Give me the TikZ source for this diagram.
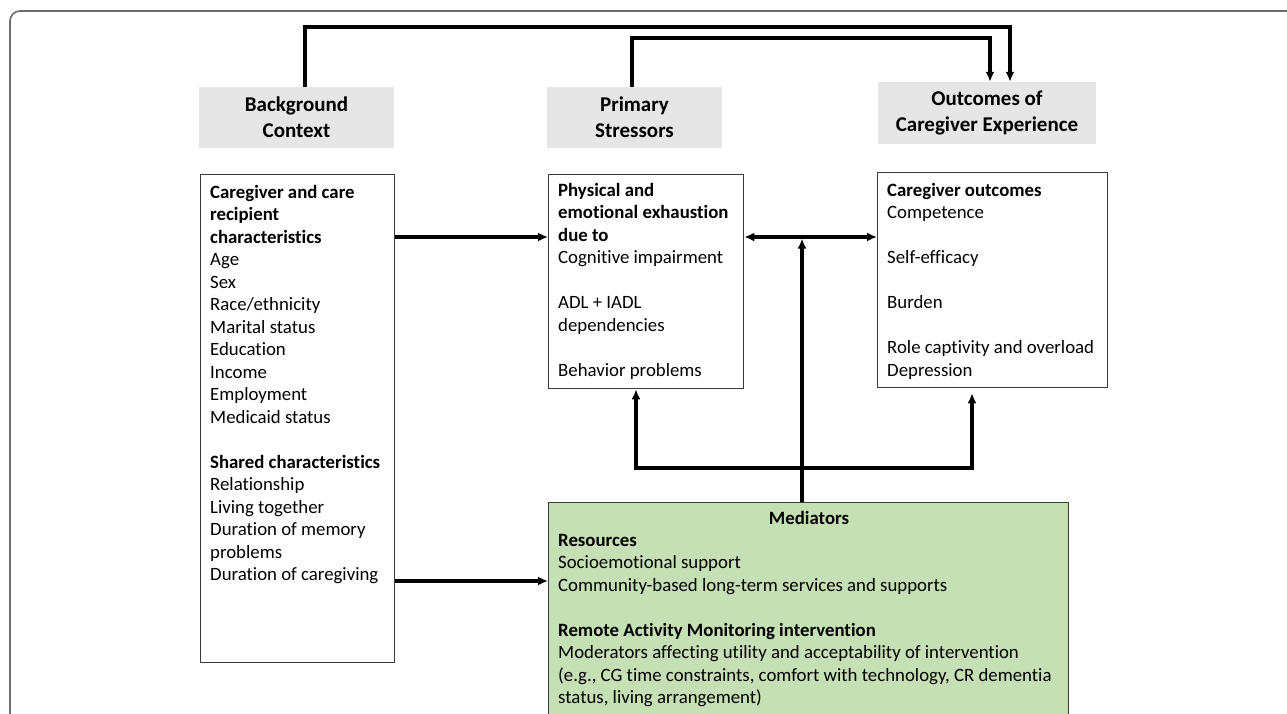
\documentclass[tikz,border=0pt]{standalone}
\usepackage{fontspec}
\setmainfont{Carlito}[Ligatures=NoCommon]
\usetikzlibrary{arrows.meta,calc}
\definecolor{hdr}{HTML}{E6E6E6}
\definecolor{grn}{HTML}{C5E0B4}
\definecolor{frm}{HTML}{6E6E6E}
\definecolor{bdr}{HTML}{3A3A3A}
\begin{document}
\begin{tikzpicture}[x=1pt,y=-1pt,
  hdrbox/.style={fill=hdr, draw=none, inner sep=0pt, align=center, font=\fontsize{21}{26}\selectfont\bfseries},
  panel/.style={draw=bdr, line width=1.3pt, inner sep=0pt, anchor=north west},
  body/.style={anchor=north west, inner sep=0pt, align=left, font=\fontsize{18.8}{22.5}\selectfont},
  conn/.style={line width=3.2pt, -{Latex[length=10pt,width=9pt]}},
  ]
\useasboundingbox (0,0) rectangle (1287,714);
\clip (0,0) rectangle (1287,714);
\draw[frm, line width=1.7pt, rounded corners=10pt] (10,740) -- (10,11) -- (1300,11);

% headers
\node[hdrbox, minimum width=195pt, minimum height=61pt] (bg) at (296.5,117.5) {Background\\Context};
\node[hdrbox, minimum width=175pt, minimum height=61pt] (ps) at (634.5,117.5) {Primary\\Stressors};
\node[hdrbox, minimum width=218pt, minimum height=62pt] (oc) at (987,113) {Outcomes of\\Caregiver Experience};

% panels
\node[panel, minimum width=194pt, minimum height=488pt] (lb) at (200,174) {};
\node[panel, minimum width=195pt, minimum height=214pt] (pb) at (548,174) {};
\node[panel, minimum width=230pt, minimum height=215pt] (ob) at (877,172) {};
\node[panel, fill=grn, minimum width=520pt, minimum height=260pt] (gb) at (548,502) {};

% texts
\node[body] (lbt) at (210,185) {\textbf{Caregiver and care}\\\textbf{recipient}\\\textbf{characteristics}\\Age\\Sex\\Race/ethnicity\\Marital status\\Education\\Income\\Employment\\Medicaid status\\[22.5pt]\textbf{Shared characteristics}\\Relationship\\Living together\\Duration of memory\\problems\\Duration of caregiving};
\node[body] (pbt) at (558,183) {\textbf{Physical and}\\\textbf{emotional exhaustion}\\\textbf{due to}\\Cognitive impairment\\[22.5pt]ADL + IADL\\dependencies\\[22.5pt]Behavior problems};
\node[body] (obt) at (887,183) {\textbf{Caregiver outcomes}\\Competence\\[22.5pt]Self-efficacy\\[22.5pt]Burden\\[22.5pt]Role captivity and overload\\Depression};
\node[body, anchor=north] (gbh) at (809,511) {\textbf{Mediators}};
\node[body] (gbt) at (558,534) {\textbf{Resources}\\Socioemotional support\\Community-based long-term services and supports\\[22.5pt]\textbf{Remote Activity Monitoring intervention}\\Moderators affecting utility and acceptability of intervention\\(e.g., CG time constraints, comfort with technology, CR dementia\\status, living arrangement)};

% helper coordinates
\coordinate (r1) at (0,237);
\coordinate (r2) at (0,581);
\coordinate (r3) at (0,468);
\coordinate (cx) at (802,0);
\coordinate (lx) at (636,0);
\coordinate (rx) at (972,0);
\coordinate (t1) at (0,27);
\coordinate (t2) at (0,38);

% connectors
\draw[conn] ([xshift=8.5pt]bg.north) -- ([xshift=8.5pt]bg.north |- t1) -| ([xshift=23pt]oc.north);
\draw[conn] ([xshift=-2.5pt]ps.north) -- ([xshift=-2.5pt]ps.north |- t2) -| ([xshift=3pt]oc.north);
\draw[conn] (lb.east |- r1) -- (pb.west |- r1);
\draw[conn] (lb.east |- r2) -- (gb.west |- r2);
\draw[conn, {Latex[length=10pt,width=9pt]}-{Latex[length=10pt,width=9pt]}] (pb.east |- r1) -- (ob.west |- r1);
\draw[conn] (gb.north -| cx) -- ([yshift=-1.6pt]r1 -| cx);
\draw[conn] (r3 -| rx) -- (r3 -| lx) -- (pb.south -| lx);
\draw[conn] (r3 -| lx) -- (r3 -| rx) -- ([yshift=-5pt]ob.south -| rx);
\end{tikzpicture}
\end{document}
